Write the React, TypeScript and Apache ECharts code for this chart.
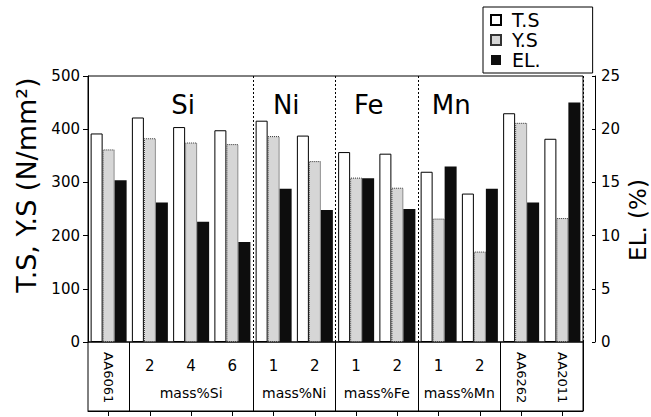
import React, { useEffect, useRef } from "react";
import * as echarts from "echarts";

// Categories (unique ids) and their displayed labels
const CATEGORIES = ["AA6061", "Si2", "Si4", "Si6", "Ni1", "Ni2", "Fe1", "Fe2", "Mn1", "Mn2", "AA6262", "AA2011"];
const NUMBER_LABELS = ["", "2", "4", "6", "1", "2", "1", "2", "1", "2", "", ""];
const ALLOY_LABELS = ["AA6061", "", "", "", "", "", "", "", "", "", "AA6262", "AA2011"];

// Element groups: [first category index, end index (exclusive)]
const GROUP_ELEMENTS = ["Si", "Ni", "Fe", "Mn"];
const GROUP_NAMES = ["mass%Si", "mass%Ni", "mass%Fe", "mass%Mn"];
const GROUP_START = [1, 4, 6, 8];
const GROUP_END = [4, 6, 8, 10];

// Series values
const TS = [392, 422, 404, 398, 416, 388, 357, 354, 320, 279, 430, 382];
const YS = [362, 383, 375, 372, 387, 340, 309, 290, 232, 170, 412, 233];
const EL = [15.2, 13.1, 11.3, 9.4, 14.4, 12.4, 15.4, 12.5, 16.5, 14.4, 13.1, 22.5];

const FONT = "DejaVu Sans";

const groupCenter = (g: number) => (GROUP_START[g] + GROUP_END[g]) / 2;
const groupIndexAt = (v: number) => {
  for (let g = 0; g < GROUP_START.length; g++) {
    if (Math.abs(groupCenter(g) - v) < 0.01) return g;
  }
  return -1;
};
const SEPARATORS = GROUP_START.filter((s) => s > 1); // dotted lines in plot
const DIVIDERS = [1, ...GROUP_START.filter((s) => s > 1), GROUP_END[GROUP_END.length - 1]]; // solid lines in table

export default function App() {
  const ref = useRef<HTMLDivElement>(null);

  useEffect(() => {
    document.body.style.margin = "0";
    const chart = echarts.init(ref.current!, undefined, { renderer: "svg" });
    const black = { color: "#000", width: 1 };
    chart.setOption({
      animation: false,
      textStyle: { fontFamily: FONT, color: "#000" },
      legend: {
        data: ["T.S", "Y.S", "EL."],
        orient: "vertical",
        left: 483,
        top: 7,
        itemWidth: 10,
        itemHeight: 10,
        itemGap: 0,
        padding: [3, 52, 3, 7],
        borderColor: "#000",
        borderWidth: 1,
        icon: "rect",
        textStyle: { fontFamily: FONT, fontSize: 19, lineHeight: 20, color: "#000", padding: [0, 0, 0, 6] },
      },
      grid: [
        { left: 88, right: 68, top: 76, height: 266, show: true, borderColor: "#000", borderWidth: 1, backgroundColor: "transparent", containLabel: false, outerBoundsMode: "none" },
        { left: 88, right: 68, top: 342, height: 69, show: true, borderColor: "#000", borderWidth: 1, backgroundColor: "transparent", containLabel: false, outerBoundsMode: "none" },
      ],
      xAxis: [
        {
          type: "category",
          gridIndex: 0,
          data: CATEGORIES,
          position: "bottom",
          axisLine: { show: false },
          axisTick: { show: false },
          axisLabel: { show: false },
          splitLine: {
            show: true,
            interval: (i: number) => SEPARATORS.includes(i),
            lineStyle: { color: "#000", width: 1, type: [2, 2] },
          },
        },
        {
          type: "value",
          gridIndex: 0,
          position: "top",
          min: 0,
          max: CATEGORIES.length,
          interval: 0.5,
          axisLine: { show: false },
          axisTick: { show: false },
          splitLine: { show: false },
          axisLabel: {
            inside: true,
            margin: 16,
            fontSize: 26,
            fontFamily: FONT,
            color: "#000",
            padding: [0, 16, 0, 0],
            formatter: (v: number) => {
              const g = groupIndexAt(v);
              return g >= 0 ? GROUP_ELEMENTS[g] : "";
            },
          },
        },
        {
          type: "category",
          gridIndex: 1,
          data: CATEGORIES,
          position: "top",
          axisLine: { show: true, lineStyle: black },
          axisTick: { show: true, inside: true, alignWithLabel: true, length: 5, lineStyle: black },
          axisLabel: {
            inside: true,
            interval: 0,
            margin: 16,
            fontSize: 15,
            fontFamily: FONT,
            color: "#000",
            formatter: (_v: string, i: number) => NUMBER_LABELS[i],
          },
          splitLine: {
            show: true,
            interval: (i: number) => DIVIDERS.includes(i),
            lineStyle: black,
          },
        },
        {
          type: "category",
          gridIndex: 1,
          data: CATEGORIES,
          position: "top",
          axisLine: { show: false },
          axisTick: { show: false },
          splitLine: { show: false },
          axisLabel: {
            inside: true,
            interval: 0,
            rotate: 90,
            margin: 10,
            fontSize: 13,
            fontFamily: FONT,
            color: "#000",
            formatter: (_v: string, i: number) => ALLOY_LABELS[i],
          },
        },
        {
          type: "value",
          gridIndex: 1,
          position: "bottom",
          min: 0,
          max: CATEGORIES.length,
          interval: 0.5,
          axisLine: { show: false },
          axisTick: { show: false },
          splitLine: { show: false },
          axisLabel: {
            inside: true,
            margin: 11,
            fontSize: 14,
            fontFamily: FONT,
            color: "#000",
            formatter: (v: number) => {
              const g = groupIndexAt(v);
              return g >= 0 ? GROUP_NAMES[g] : "";
            },
          },
        },
      ],
      yAxis: [
        {
          type: "value",
          gridIndex: 0,
          position: "left",
          min: 0,
          max: 500,
          interval: 100,
          axisLine: { show: true, lineStyle: black },
          axisTick: { show: true, length: 5, lineStyle: black },
          axisLabel: { fontSize: 15, fontFamily: FONT, color: "#000", margin: 8 },
          splitLine: { show: false },
          name: "T.S, Y.S (N/mm²)",
          nameLocation: "middle",
          nameRotate: 90,
          nameGap: 48,
          nameMoveOverlap: false,
          nameTextStyle: { fontSize: 27, fontFamily: FONT, color: "#000", padding: [0, 0, 0, 48] },
        },
        {
          type: "value",
          gridIndex: 0,
          position: "right",
          offset: 12,
          min: 0,
          max: 25,
          interval: 5,
          axisLine: { show: true, lineStyle: black },
          axisTick: { show: true, inside: true, length: 3, lineStyle: black },
          axisLabel: { fontSize: 15, fontFamily: FONT, color: "#000", margin: 6 },
          splitLine: { show: false },
          name: "EL. (%)",
          nameLocation: "middle",
          nameRotate: 90,
          nameGap: 31,
          nameMoveOverlap: false,
          nameTextStyle: { fontSize: 23, fontFamily: FONT, color: "#000", padding: [0, 22, 0, 0] },
        },
        { type: "value", gridIndex: 1, min: 0, max: 1, show: false },
      ],
      series: [
        {
          name: "T.S",
          type: "bar",
          xAxisIndex: 0,
          yAxisIndex: 0,
          data: TS,
          barWidth: 12,
          barGap: "0%",
          itemStyle: { color: "#ffffff", borderColor: "#000", borderWidth: 1 },
        },
        {
          name: "Y.S",
          type: "bar",
          xAxisIndex: 0,
          yAxisIndex: 0,
          data: YS,
          barWidth: 12,
          barGap: "0%",
          itemStyle: { color: "#d6d6d6", borderColor: "#333", borderWidth: 1, borderType: "dotted" },
        },
        {
          name: "EL.",
          type: "bar",
          xAxisIndex: 0,
          yAxisIndex: 1,
          data: EL,
          barWidth: 12,
          barGap: "0%",
          itemStyle: { color: "#0d0d0d" },
        },
      ],
    });
    return () => chart.dispose();
  }, []);

  return <div ref={ref} style={{ width: 651, height: 417 }} />;
}
